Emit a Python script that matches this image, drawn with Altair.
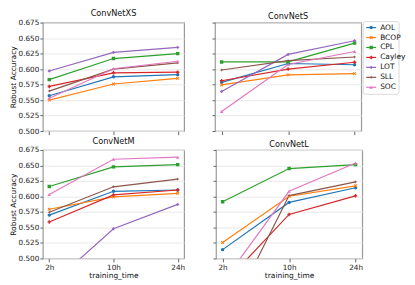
import altair as alt
import pandas as pd

models = ["ConvNetXS", "ConvNetS", "ConvNetM", "ConvNetL"]
times = ["2h", "10h", "24h"]
methods = ["AOL", "BCOP", "CPL", "Cayley", "LOT", "SLL", "SOC"]
colors = ["#1f77b4", "#ff7f0e", "#2ca02c", "#d62728", "#9467bd", "#8c564b", "#e377c2"]
y_ticks = [0.500, 0.525, 0.550, 0.575, 0.600, 0.625, 0.650, 0.675]

# robust accuracy per method (rows follow `methods`, columns follow `times`)
xs_acc = [
    [0.557, 0.5875, 0.591],
    [0.550, 0.576, 0.585],
    [0.583, 0.617, 0.625],
    [0.572, 0.594, 0.595],
    [0.597, 0.627, 0.635],
    [0.5645, 0.600, 0.610],
    [0.553, 0.6006, 0.6127],
]
s_acc = [
    [0.5786, 0.609, 0.607],
    [0.5744, 0.5907, 0.5927],
    [0.6116, 0.6116, 0.642],
    [0.5812, 0.600, 0.611],
    [0.564, 0.6237, 0.6457],
    [0.5985, 0.6137, 0.6195],
    [0.5314, 0.6074, 0.6284],
]
m_acc = [
    [0.5699, 0.6083, 0.6104],
    [0.5794, 0.5993, 0.6051],
    [0.616, 0.6477, 0.6514],
    [0.5589, 0.6025, 0.6104],
    [0.455, 0.5478, 0.5872],
    [0.5746, 0.6156, 0.628],
    [0.603, 0.660, 0.6634],
]
l_acc = [
    [0.5142, 0.5904, 0.614],
    [0.5258, 0.6004, 0.6172],
    [0.5914, 0.645, 0.6514],
    [0.457, 0.571, 0.601],
    [None, None, None],
    [0.388, 0.6014, 0.6235],
    [0.461, 0.6083, 0.654],
]

rows = []
for model, table in zip(models, [xs_acc, s_acc, m_acc, l_acc]):
    for method, series in zip(methods, table):
        for t, v in zip(times, series):
            if v is not None:
                rows.append({"model": model, "method": method, "time": t, "acc": v})
df = pd.DataFrame(rows)
legend_df = pd.DataFrame({"method": methods})

X_PATH = "M-1,-0.6L-0.6,-1L0,-0.4L0.6,-1L1,-0.6L0.4,0L1,0.6L0.6,1L0,0.4L-0.6,1L-1,0.6L-0.4,0Z"
STAR_PATH = "M0,-1L0.3,-0.3L1,0L0.3,0.3L0,1L-0.3,0.3L-1,0L-0.3,-0.3Z"
shapes = ["circle", X_PATH, "square", "cross", "diamond", STAR_PATH, "triangle-up"]

W_LEFT, W_RIGHT, H = 142, 147, 109
FONT = "DejaVu Sans"

color_enc = alt.Color("method:N", scale=alt.Scale(domain=methods, range=colors), legend=None)
shape_enc = alt.Shape("method:N", scale=alt.Scale(domain=methods, range=shapes), legend=None)


def panel(model, bottom, left):
    w = W_LEFT if left else W_RIGHT
    xaxis = alt.Axis(
        labels=bottom, title="training_time" if bottom else None, grid=False,
        labelAngle=0, domain=False, tickSize=3.5, labelPadding=1.5,
    )
    yaxis = alt.Axis(
        values=y_ticks, format=".3f", labels=left, title="Robust Accuracy" if left else None,
        grid=True, domain=False, tickSize=3, labelPadding=1,
    )
    base = alt.Chart(df[df.model == model]).encode(
        x=alt.X("time:N", sort=times, scale=alt.Scale(type="point", domain=times, padding=0.1), axis=xaxis),
        y=alt.Y("acc:Q", scale=alt.Scale(domain=[0.5, 0.675], nice=False, zero=False), axis=yaxis),
        color=color_enc,
    )
    lines = base.mark_line(clip=True, strokeWidth=1.2)
    pts = base.mark_point(clip=True, filled=True, size=12, opacity=1).encode(shape=shape_enc)
    return alt.layer(lines, pts).properties(
        width=w, height=H,
        title=alt.TitleParams(model, fontSize=8.2, font=FONT, fontWeight="normal", offset=0, color="#111"),
    )


def legend_layers():
    W = W_RIGHT
    leg_y = alt.Y("method:N", sort=methods, scale=alt.Scale(type="point", domain=methods, range=[5, 65], padding=0), axis=None)
    box = alt.Chart(alt.Data(values=[{"k": 1}])).mark_rect(
        fill="white", stroke="#cfcfcf", strokeWidth=0.8, cornerRadius=2, clip=False
    ).encode(x=alt.value(W + 2), x2=alt.value(W + 38), y=alt.value(-1), y2=alt.value(72))
    seg = alt.Chart(legend_df).mark_rule(strokeWidth=1.2, clip=False).encode(
        x=alt.value(W + 5), x2=alt.value(W + 15), y=leg_y, color=color_enc
    )
    mk = alt.Chart(legend_df).mark_point(filled=True, size=12, opacity=1, clip=False).encode(
        x=alt.value(W + 10), y=leg_y, color=color_enc, shape=shape_enc
    )
    txt = alt.Chart(legend_df).mark_text(
        align="left", baseline="middle", fontSize=7.5, font=FONT, color="#111", clip=False
    ).encode(x=alt.value(W + 19), y=leg_y, text="method:N")
    return [box, seg, mk, txt]


p1 = panel("ConvNetXS", False, True)
p2 = alt.layer(panel("ConvNetS", False, False), *legend_layers()).resolve_scale(y="independent")
p3 = panel("ConvNetM", True, True)
p4 = panel("ConvNetL", True, False)

chart = alt.vconcat(
    alt.hconcat(p1, p2, spacing=26),
    alt.hconcat(p3, p4, spacing=26),
    spacing=0,
).properties(padding={"left": 0, "top": 0, "right": 0, "bottom": 0}).configure_view(
    stroke="#9a9a9a", strokeWidth=1.2
).configure_axis(
    labelFont=FONT, titleFont=FONT, labelFontSize=7.3, titleFontSize=7.5, titleFontWeight="normal",
    labelColor="#222", titleColor="#111", tickColor="#444", tickWidth=0.8, gridColor="#e6e6e6",
    gridWidth=0.9, titlePadding=1,
)

chart.save("out.html", embed_options={"renderer": "svg", "actions": False})
